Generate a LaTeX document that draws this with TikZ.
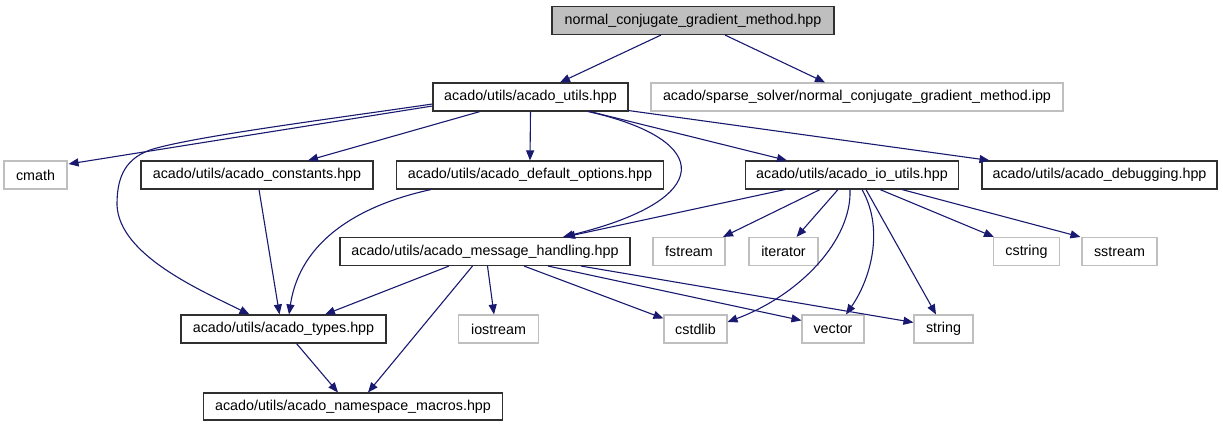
\documentclass[tikz,border=0pt]{standalone}
\usepackage{fontspec}
\setmainfont{Liberation Sans}
\usetikzlibrary{arrows.meta,calc}
\definecolor{edgeblue}{HTML}{191970}
\definecolor{lgray}{HTML}{BFBFBF}
\definecolor{dborder}{HTML}{303030}
\begin{document}
\begin{tikzpicture}[x=1pt,y=-1pt,
  box/.style={rectangle,inner sep=0pt,minimum height=28pt,font=\fontsize{14.3}{16}\selectfont,text=black},
  blk/.style={box,draw=dborder,line width=1.1pt},
  gry/.style={box,draw=lgray,line width=1.1pt},
  rootbox/.style={box,draw=dborder,fill=lgray,line width=1.1pt},
  dep/.style={draw=edgeblue,line width=1.1pt,-{Triangle[length=10pt,width=8pt]}}]
\useasboundingbox (0,0) rectangle (1223,427);
% nodes
\node[rootbox,minimum width=282pt] (root) at (693,20.5) {normal\_conjugate\_gradient\_method.hpp};
\node[blk,minimum width=195pt] (utils) at (530.5,97) {acado/utils/acado\_utils.hpp};
\node[gry,minimum width=412pt] (ipp) at (857,97) {acado/sparse\_solver/normal\_conjugate\_gradient\_method.ipp};
\node[gry,minimum width=63pt] (cmath) at (35.5,175) {cmath};
\node[blk,minimum width=232pt] (const) at (257,175) {acado/utils/acado\_constants.hpp};
\node[blk,minimum width=267pt] (defopt) at (530,175) {acado/utils/acado\_default\_options.hpp};
\node[blk,minimum width=213pt] (io) at (852,175) {acado/utils/acado\_io\_utils.hpp};
\node[blk,minimum width=235pt] (debug) at (1099.5,175) {acado/utils/acado\_debugging.hpp};
\node[blk,minimum width=290pt] (msg) at (485,251.5) {acado/utils/acado\_message\_handling.hpp};
\node[gry,minimum width=72pt] (fstream) at (689,251.5) {fstream};
\node[gry,minimum width=69pt] (iterator) at (783.5,251.5) {iterator};
\node[gry,minimum width=66pt] (cstring) at (1026.5,251.5) {cstring};
\node[gry,minimum width=75pt] (sstream) at (1119.5,251.5) {sstream};
\node[blk,minimum width=205pt] (types) at (283.5,329) {acado/utils/acado\_types.hpp};
\node[gry,minimum width=80pt] (iostream) at (498.5,329) {iostream};
\node[gry,minimum width=63pt] (cstdlib) at (695.5,329) {cstdlib};
\node[gry,minimum width=62pt] (vector) at (833,329) {vector};
\node[gry,minimum width=59pt] (string) at (943.5,329) {string};
\node[blk,minimum width=299pt,minimum height=27pt] (ns) at (353,406.5) {acado/utils/acado\_namespace\_macros.hpp};
% edges
\draw[dep] ($(root.south)+(-32,0)$) -- ($(utils.north)+(29.5,0)$);
\draw[dep] ($(root.south)+(32,0)$) -- ($(ipp.north)+(-32,0)$);
\draw[dep] ($(utils.west)+(0,9)$) -- ($(cmath.east)+(1,-11)$);
\draw[dep] ($(utils.west)+(0,7)$) .. controls (330,119) and (190,137) .. (150,150)
  .. controls (122,160) and (117,182) .. (117,205)
  .. controls (119,255) and (200,290) .. ($(types.north)+(-34,0)$);
\draw[dep] ($(utils.south)+(-50.5,0)$) -- ($(const.north)+(51,0)$);
\draw[dep] (utils.south) -- (defopt.north);
\draw[dep] ($(utils.south)+(57.5,0)$) .. controls (715,140) and (715,200) .. ($(msg.north)+(78,0)$);
\draw[dep] ($(utils.south)+(59.5,0)$) -- ($(io.north)+(-65,0)$);
\draw[dep] ($(utils.south east)+(0,-1)$) -- ($(debug.north)+(-110,0)$);
\draw[dep] ($(const.south)+(2,0)$) -- ($(types.north)+(-4,0)$);
\draw[dep] ($(defopt.south)+(-99,0)$) .. controls (360,205) and (300,240) .. ($(types.north)+(5.5,0)$);
\draw[dep] ($(msg.south)+(-36,0)$) -- ($(types.north)+(41.5,0)$);
\draw[dep] ($(msg.south)+(-12.5,0)$) -- ($(ns.north)+(15,0)$);
\draw[dep] ($(msg.south)+(2.5,0)$) -- ($(iostream.north)+(-4.5,0)$);
\draw[dep] ($(msg.south)+(39,0)$) -- ($(cstdlib.north west)+(0,4)$);
\draw[dep] ($(msg.south)+(63,0)$) -- ($(vector.north west)+(0,6)$);
\draw[dep] ($(msg.south)+(96,0)$) -- ($(string.north west)+(0,8)$);
\draw[dep] ($(types.south)+(13,0)$) -- ($(ns.north)+(-15,0)$);
\draw[dep] ($(io.south)+(-67,0)$) -- ($(msg.north)+(80,0)$);
\draw[dep] ($(io.south)+(-32,0)$) -- ($(fstream.north)+(34,0)$);
\draw[dep] ($(io.south)+(-14,0)$) -- ($(iterator.north)+(13,0)$);
\draw[dep] ($(io.south)+(-2,0)$) .. controls (852,240) and (800,295) .. ($(cstdlib.east)+(0,-7)$);
\draw[dep] ($(io.south)+(10,0)$) .. controls (885,230) and (870,280) .. ($(vector.north)+(13,0)$);
\draw[dep] ($(io.south)+(14,0)$) -- ($(string.north)+(-7.5,0)$);
\draw[dep] ($(io.south)+(28,0)$) -- ($(cstring.north west)+(1,0)$);
\draw[dep] ($(io.south)+(50,0)$) -- ($(sstream.north west)+(-1,0)$);
\end{tikzpicture}
\end{document}
